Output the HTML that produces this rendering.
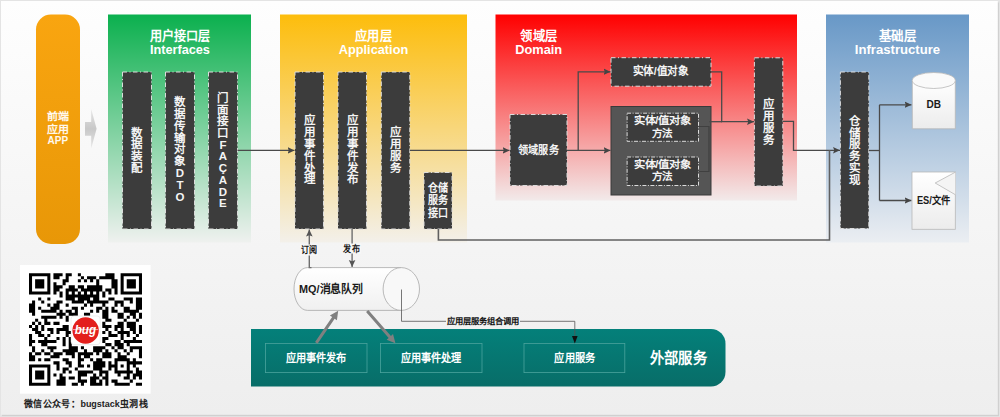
<!DOCTYPE html>
<html lang="zh-CN"><head><meta charset="utf-8"><title>DDD</title>
<style>
html,body{margin:0;padding:0;background:#f4f4f4;}
body{width:1000px;height:417px;overflow:hidden;font-family:"Liberation Sans", sans-serif;}
svg{display:block;font-family:"Liberation Sans", sans-serif;}
</style></head><body>
<svg width="1000" height="417" viewBox="0 0 1000 417">
<defs>
<linearGradient id="gbg" x1="0" y1="0" x2="0" y2="1"><stop offset="0" stop-color="#fefefe"/><stop offset="0.6" stop-color="#f4f4f4"/><stop offset="1" stop-color="#eeeeee"/></linearGradient>
<linearGradient id="gor" x1="0" y1="0" x2="0" y2="1"><stop offset="0" stop-color="#f9a510"/><stop offset="1" stop-color="#e89707"/></linearGradient>
<linearGradient id="ggr" x1="0" y1="0" x2="0" y2="1"><stop offset="0" stop-color="#0bb04e"/><stop offset="1" stop-color="#eff1ef"/></linearGradient>
<linearGradient id="gye" x1="0" y1="0" x2="0" y2="1"><stop offset="0" stop-color="#fdbd0c"/><stop offset="1" stop-color="#f3f0ea"/></linearGradient>
<linearGradient id="gre" x1="0" y1="0" x2="0" y2="1"><stop offset="0" stop-color="#ff0000"/><stop offset="1" stop-color="#f2eaea"/></linearGradient>
<linearGradient id="gbl" x1="0" y1="0" x2="0" y2="1"><stop offset="0" stop-color="#6898c7"/><stop offset="1" stop-color="#ebeef2"/></linearGradient>
<linearGradient id="gte" x1="0" y1="0" x2="0" y2="1"><stop offset="0" stop-color="#04807a"/><stop offset="1" stop-color="#086d68"/></linearGradient>
<linearGradient id="gcy" x1="0" y1="0" x2="0" y2="1"><stop offset="0" stop-color="#ffffff"/><stop offset="1" stop-color="#ececec"/></linearGradient>
<linearGradient id="gmq" x1="0" y1="0" x2="0" y2="1"><stop offset="0" stop-color="#ffffff"/><stop offset="1" stop-color="#f0f0f0"/></linearGradient>
<linearGradient id="gar" x1="0" y1="0" x2="0" y2="1"><stop offset="0" stop-color="#e6e6e6"/><stop offset="0.5" stop-color="#c8c8c8"/><stop offset="1" stop-color="#e6e6e6"/></linearGradient>
<marker id="ah" markerWidth="8" markerHeight="8" refX="7" refY="3.5" orient="auto" markerUnits="userSpaceOnUse"><path d="M0 0.2 L7 3.5 L0 6.8 L1.3 3.5 Z" fill="#444"/></marker>
<marker id="ahm" markerWidth="8" markerHeight="8" refX="7" refY="3.5" orient="auto" markerUnits="userSpaceOnUse"><path d="M0 0.2 L7 3.5 L0 6.8 L1.3 3.5 Z" fill="#555"/></marker>
<marker id="ahs" markerWidth="8" markerHeight="8" refX="7" refY="4" orient="auto" markerUnits="userSpaceOnUse"><path d="M0 1 L8 4 L0 7 z" fill="#111"/></marker>
<marker id="ahg" markerWidth="12" markerHeight="12" refX="11" refY="6" orient="auto" markerUnits="userSpaceOnUse"><path d="M0 0.5 L12 6 L0 11.5 z" fill="#7f7f7f"/></marker>
</defs>
<rect x="0" y="0" width="1000" height="417" fill="#e4e4e4"/>
<rect x="2" y="2.5" width="997" height="413.6" fill="#d0d0d0"/>
<rect x="1" y="1" width="996.8" height="413.8" fill="url(#gbg)"/>
<rect x="36" y="14.5" width="44" height="229.5" rx="15" ry="15" fill="url(#gor)"/>
<text x="57.8" y="120.1" font-size="10.5" fill="#fff8ec" font-weight="bold" text-anchor="middle" textLength="21" lengthAdjust="spacingAndGlyphs" >前端</text>
<text x="57.8" y="133.0" font-size="10.5" fill="#fff8ec" font-weight="bold" text-anchor="middle" textLength="21" lengthAdjust="spacingAndGlyphs" >应用</text>
<text x="57.8" y="144.2" font-size="10" fill="#fff8ec" font-weight="bold" text-anchor="middle" textLength="20.5" lengthAdjust="spacingAndGlyphs" >APP</text>
<path d="M85 122 H91.2 V109 L96.6 128.8 L91.2 148.6 V135.7 H85 Z" fill="url(#gar)"/>
<rect x="108" y="14.5" width="143" height="228" fill="url(#ggr)"/>
<rect x="280" y="14.5" width="187" height="228" fill="url(#gye)"/>
<rect x="495.5" y="14.5" width="301.5" height="186" fill="url(#gre)"/>
<rect x="826" y="14.5" width="143" height="228" fill="url(#gbl)"/>
<text x="179.9" y="39.6" font-size="13" fill="#fff" font-weight="bold" text-anchor="middle" textLength="60.5" lengthAdjust="spacingAndGlyphs" >用户接口层</text><text x="179.9" y="53.7" font-size="12" fill="#fff" font-weight="bold" text-anchor="middle" textLength="60" lengthAdjust="spacingAndGlyphs" >Interfaces</text>
<text x="373.5" y="39.6" font-size="13" fill="#fff" font-weight="bold" text-anchor="middle" textLength="36.7" lengthAdjust="spacingAndGlyphs" >应用层</text><text x="373.5" y="53.7" font-size="12" fill="#fff" font-weight="bold" text-anchor="middle" textLength="69.5" lengthAdjust="spacingAndGlyphs" >Application</text>
<text x="538.7" y="39.6" font-size="13" fill="#fff" font-weight="bold" text-anchor="middle" textLength="37" lengthAdjust="spacingAndGlyphs" >领域层</text><text x="538.7" y="53.7" font-size="12" fill="#fff" font-weight="bold" text-anchor="middle" textLength="47" lengthAdjust="spacingAndGlyphs" >Domain</text>
<text x="897.5" y="39.6" font-size="13" fill="#fff" font-weight="bold" text-anchor="middle" textLength="37.4" lengthAdjust="spacingAndGlyphs" >基础层</text><text x="897.5" y="53.7" font-size="12" fill="#fff" font-weight="bold" text-anchor="middle" textLength="85.3" lengthAdjust="spacingAndGlyphs" >Infrastructure</text>
<rect x="122.5" y="72" width="29" height="157" fill="#3c3c3c" stroke="#dcdcdc" stroke-width="1" stroke-dasharray="4.5 2.5 1 2.5"/>
<text x="136.9" y="136.6" font-size="11.5" fill="#f4f4f4" font-weight="bold" text-anchor="middle" >数</text><text x="136.9" y="148.27" font-size="11.5" fill="#f4f4f4" font-weight="bold" text-anchor="middle" >据</text><text x="136.9" y="159.94" font-size="11.5" fill="#f4f4f4" font-weight="bold" text-anchor="middle" >装</text><text x="136.9" y="171.61" font-size="11.5" fill="#f4f4f4" font-weight="bold" text-anchor="middle" >配</text>
<rect x="165.5" y="72" width="29" height="157" fill="#3c3c3c" stroke="#dcdcdc" stroke-width="1" stroke-dasharray="4.5 2.5 1 2.5"/>
<text x="179.9" y="105.8" font-size="11.5" fill="#f4f4f4" font-weight="bold" text-anchor="middle" >数</text><text x="179.9" y="117.7" font-size="11.5" fill="#f4f4f4" font-weight="bold" text-anchor="middle" >据</text><text x="179.9" y="129.6" font-size="11.5" fill="#f4f4f4" font-weight="bold" text-anchor="middle" >传</text><text x="179.9" y="141.5" font-size="11.5" fill="#f4f4f4" font-weight="bold" text-anchor="middle" >输</text><text x="179.9" y="153.4" font-size="11.5" fill="#f4f4f4" font-weight="bold" text-anchor="middle" >对</text><text x="179.9" y="165.3" font-size="11.5" fill="#f4f4f4" font-weight="bold" text-anchor="middle" >象</text><text x="179.9" y="177.2" font-size="11.5" fill="#f4f4f4" font-weight="bold" text-anchor="middle" >D</text><text x="179.9" y="189.1" font-size="11.5" fill="#f4f4f4" font-weight="bold" text-anchor="middle" >T</text><text x="179.9" y="201.0" font-size="11.5" fill="#f4f4f4" font-weight="bold" text-anchor="middle" >O</text>
<rect x="208.5" y="72" width="29" height="157" fill="#3c3c3c" stroke="#dcdcdc" stroke-width="1" stroke-dasharray="4.5 2.5 1 2.5"/>
<text x="222.9" y="101.9" font-size="11.5" fill="#f4f4f4" font-weight="bold" text-anchor="middle" >门</text><text x="222.9" y="113.6" font-size="11.5" fill="#f4f4f4" font-weight="bold" text-anchor="middle" >面</text><text x="222.9" y="125.3" font-size="11.5" fill="#f4f4f4" font-weight="bold" text-anchor="middle" >接</text><text x="222.9" y="137.0" font-size="11.5" fill="#f4f4f4" font-weight="bold" text-anchor="middle" >口</text><text x="222.9" y="148.7" font-size="11.5" fill="#f4f4f4" font-weight="bold" text-anchor="middle" >F</text><text x="222.9" y="160.4" font-size="11.5" fill="#f4f4f4" font-weight="bold" text-anchor="middle" >A</text><text x="222.9" y="172.1" font-size="11.5" fill="#f4f4f4" font-weight="bold" text-anchor="middle" >Ç</text><text x="222.9" y="183.8" font-size="11.5" fill="#f4f4f4" font-weight="bold" text-anchor="middle" >A</text><text x="222.9" y="195.5" font-size="11.5" fill="#f4f4f4" font-weight="bold" text-anchor="middle" >D</text><text x="222.9" y="207.2" font-size="11.5" fill="#f4f4f4" font-weight="bold" text-anchor="middle" >E</text>
<rect x="295" y="72" width="28.5" height="157" fill="#3c3c3c" stroke="#dcdcdc" stroke-width="1" stroke-dasharray="4.5 2.5 1 2.5"/>
<text x="309.2" y="124.1" font-size="11.5" fill="#f4f4f4" font-weight="bold" text-anchor="middle" >应</text><text x="309.2" y="135.95" font-size="11.5" fill="#f4f4f4" font-weight="bold" text-anchor="middle" >用</text><text x="309.2" y="147.8" font-size="11.5" fill="#f4f4f4" font-weight="bold" text-anchor="middle" >事</text><text x="309.2" y="159.65" font-size="11.5" fill="#f4f4f4" font-weight="bold" text-anchor="middle" >件</text><text x="309.2" y="171.5" font-size="11.5" fill="#f4f4f4" font-weight="bold" text-anchor="middle" >处</text><text x="309.2" y="183.35" font-size="11.5" fill="#f4f4f4" font-weight="bold" text-anchor="middle" >理</text>
<rect x="338" y="72" width="28.5" height="157" fill="#3c3c3c" stroke="#dcdcdc" stroke-width="1" stroke-dasharray="4.5 2.5 1 2.5"/>
<text x="352.2" y="124.1" font-size="11.5" fill="#f4f4f4" font-weight="bold" text-anchor="middle" >应</text><text x="352.2" y="135.95" font-size="11.5" fill="#f4f4f4" font-weight="bold" text-anchor="middle" >用</text><text x="352.2" y="147.8" font-size="11.5" fill="#f4f4f4" font-weight="bold" text-anchor="middle" >事</text><text x="352.2" y="159.65" font-size="11.5" fill="#f4f4f4" font-weight="bold" text-anchor="middle" >件</text><text x="352.2" y="171.5" font-size="11.5" fill="#f4f4f4" font-weight="bold" text-anchor="middle" >发</text><text x="352.2" y="183.35" font-size="11.5" fill="#f4f4f4" font-weight="bold" text-anchor="middle" >布</text>
<rect x="381.3" y="72" width="28.5" height="157" fill="#3c3c3c" stroke="#dcdcdc" stroke-width="1" stroke-dasharray="4.5 2.5 1 2.5"/>
<text x="395.1" y="136.0" font-size="11.5" fill="#f4f4f4" font-weight="bold" text-anchor="middle" >应</text><text x="395.1" y="148.0" font-size="11.5" fill="#f4f4f4" font-weight="bold" text-anchor="middle" >用</text><text x="395.1" y="160.0" font-size="11.5" fill="#f4f4f4" font-weight="bold" text-anchor="middle" >服</text><text x="395.1" y="172.0" font-size="11.5" fill="#f4f4f4" font-weight="bold" text-anchor="middle" >务</text>
<rect x="424" y="172.5" width="28" height="56.5" fill="#3c3c3c" stroke="#dcdcdc" stroke-width="1" stroke-dasharray="4.5 2.5 1 2.5"/>
<text x="438.4" y="191.8" font-size="10.8" fill="#f4f4f4" font-weight="bold" text-anchor="middle" textLength="20.5" lengthAdjust="spacingAndGlyphs" >仓储</text>
<text x="438.4" y="204.2" font-size="10.8" fill="#f4f4f4" font-weight="bold" text-anchor="middle" textLength="20.5" lengthAdjust="spacingAndGlyphs" >服务</text>
<text x="438.4" y="216.6" font-size="10.8" fill="#f4f4f4" font-weight="bold" text-anchor="middle" textLength="20.5" lengthAdjust="spacingAndGlyphs" >接口</text>
<rect x="510" y="114.5" width="57" height="71" fill="#3c3c3c" stroke="#dcdcdc" stroke-width="1" stroke-dasharray="4.5 2.5 1 2.5"/>
<text x="538.4" y="154.0" font-size="11" fill="#f4f4f4" font-weight="bold" text-anchor="middle" textLength="40.5" lengthAdjust="spacingAndGlyphs" >领域服务</text>
<rect x="611" y="57.7" width="100" height="28.5" fill="#3c3c3c" stroke="#dcdcdc" stroke-width="1" stroke-dasharray="4.5 2.5 1 2.5"/>
<text x="660.6" y="75.3" font-size="11" fill="#f4f4f4" font-weight="bold" text-anchor="middle" textLength="56" lengthAdjust="spacingAndGlyphs" >实体/值对象</text>
<rect x="611" y="106.5" width="100" height="88.5" fill="#555555" stroke="#3a3a3a" stroke-width="1"/>
<rect x="627.1" y="113.2" width="71.4" height="28.1" fill="#3c3c3c" stroke="#dcdcdc" stroke-width="1" stroke-dasharray="4 1.5 1 1.5"/>
<text x="662.3" y="124.1" font-size="10.5" fill="#f4f4f4" font-weight="bold" text-anchor="middle" textLength="57" lengthAdjust="spacingAndGlyphs" >实体/值对象</text>
<text x="662.3" y="136.5" font-size="10.5" fill="#f4f4f4" font-weight="bold" text-anchor="middle" textLength="20.2" lengthAdjust="spacingAndGlyphs" >方法</text>
<rect x="627.1" y="157" width="71.4" height="28.5" fill="#3c3c3c" stroke="#dcdcdc" stroke-width="1" stroke-dasharray="4 1.5 1 1.5"/>
<text x="662.3" y="168.4" font-size="10.5" fill="#f4f4f4" font-weight="bold" text-anchor="middle" textLength="57" lengthAdjust="spacingAndGlyphs" >实体/值对象</text>
<text x="662.3" y="180.3" font-size="10.5" fill="#f4f4f4" font-weight="bold" text-anchor="middle" textLength="20.2" lengthAdjust="spacingAndGlyphs" >方法</text>
<rect x="754.4" y="57.8" width="28.4" height="128.2" fill="#3c3c3c" stroke="#dcdcdc" stroke-width="1" stroke-dasharray="4.5 2.5 1 2.5"/>
<text x="768.3" y="107.8" font-size="11.5" fill="#f4f4f4" font-weight="bold" text-anchor="middle" >应</text><text x="768.3" y="119.7" font-size="11.5" fill="#f4f4f4" font-weight="bold" text-anchor="middle" >用</text><text x="768.3" y="131.6" font-size="11.5" fill="#f4f4f4" font-weight="bold" text-anchor="middle" >服</text><text x="768.3" y="143.5" font-size="11.5" fill="#f4f4f4" font-weight="bold" text-anchor="middle" >务</text>
<rect x="840.4" y="72" width="28.4" height="156.5" fill="#3c3c3c" stroke="#dcdcdc" stroke-width="1" stroke-dasharray="4.5 2.5 1 2.5"/>
<text x="854.5" y="124.9" font-size="11.5" fill="#f4f4f4" font-weight="bold" text-anchor="middle" >仓</text><text x="854.5" y="136.66" font-size="11.5" fill="#f4f4f4" font-weight="bold" text-anchor="middle" >储</text><text x="854.5" y="148.42" font-size="11.5" fill="#f4f4f4" font-weight="bold" text-anchor="middle" >服</text><text x="854.5" y="160.18" font-size="11.5" fill="#f4f4f4" font-weight="bold" text-anchor="middle" >务</text><text x="854.5" y="171.94" font-size="11.5" fill="#f4f4f4" font-weight="bold" text-anchor="middle" >实</text><text x="854.5" y="183.7" font-size="11.5" fill="#f4f4f4" font-weight="bold" text-anchor="middle" >现</text>
<path d="M237.5 150.4 H294.5" stroke="#4a4a4a" stroke-width="1.3" fill="none" marker-end="url(#ah)"/>
<path d="M409.8 150.4 H509.5" stroke="#4a4a4a" stroke-width="1.3" fill="none" marker-end="url(#ah)"/>
<path d="M567 150.4 H610.5" stroke="#4a4a4a" stroke-width="1.3" fill="none" marker-end="url(#ah)"/>
<path d="M578.2 150.4 V71.8 H610.5" stroke="#4a4a4a" stroke-width="1.3" fill="none" marker-end="url(#ah)"/>
<path d="M711 71.8 H721.7 V121.7 H754" stroke="#4a4a4a" stroke-width="1.3" fill="none" marker-end="url(#ah)"/>
<path d="M698.5 126.5 H709 V171.5 H698.5" stroke="#404040" stroke-width="1.2" fill="none"/>
<path d="M709 121.7 H722" stroke="#4a4a4a" stroke-width="1.3" fill="none"/>
<path d="M782.8 121.3 H793.5 V150.3 H840" stroke="#4a4a4a" stroke-width="1.3" fill="none" marker-end="url(#ah)"/>
<path d="M438.4 229 V240 H829.5 V150.3" stroke="#606060" stroke-width="1.6" fill="none"/>
<path d="M868.8 150.5 H879.5" stroke="#4a4a4a" stroke-width="1.3" fill="none"/>
<path d="M879.5 104.8 V200.5" stroke="#4a4a4a" stroke-width="1.3" fill="none"/>
<path d="M879.5 104.8 H911.5" stroke="#4a4a4a" stroke-width="1.3" fill="none" marker-end="url(#ah)"/>
<path d="M879.5 200.5 H911.5" stroke="#4a4a4a" stroke-width="1.3" fill="none" marker-end="url(#ah)"/>
<path d="M912.3 80.5 V128.8 H955.3 V80.5" fill="url(#gcy)" stroke="#b8b8b8" stroke-width="0.8"/>
<ellipse cx="933.8" cy="80.5" rx="21.5" ry="8" fill="#fafafa" stroke="#b8b8b8" stroke-width="0.8"/>
<text x="933.7" y="108.3" font-size="10.5" fill="#1a1a1a" font-weight="bold" text-anchor="middle" textLength="14.5" lengthAdjust="spacingAndGlyphs" >DB</text>
<rect x="912" y="172" width="43.3" height="57.3" fill="url(#gcy)" stroke="#b8b8b8" stroke-width="0.8"/>
<path d="M955.3 172.2 L935.2 183 L955.3 194.7" fill="#f4f4f4" stroke="#b8b8b8" stroke-width="0.8"/>
<text x="933.7" y="204" font-size="10" fill="#1a1a1a" font-weight="bold" text-anchor="middle" textLength="33.5" lengthAdjust="spacingAndGlyphs" >ES/文件</text>
<path d="M251 329 H711 A14.5 14.5 0 0 1 725.5 343.5 V372 A14.5 14.5 0 0 1 711 386.5 H251 Z" fill="url(#gte)"/>
<rect x="265.5" y="343.4" width="101.5" height="29.2" fill="none" stroke="#4aa39d" stroke-width="0.8"/>
<text x="316.1" y="361.6" font-size="11" fill="#fff" font-weight="bold" text-anchor="middle" textLength="61" lengthAdjust="spacingAndGlyphs" >应用事件发布</text>
<rect x="380.5" y="343.4" width="101.5" height="29.2" fill="none" stroke="#4aa39d" stroke-width="0.8"/>
<text x="431.0" y="361.6" font-size="11" fill="#fff" font-weight="bold" text-anchor="middle" textLength="61" lengthAdjust="spacingAndGlyphs" >应用事件处理</text>
<rect x="524" y="343.4" width="100.8" height="29.2" fill="none" stroke="#4aa39d" stroke-width="0.8"/>
<text x="574.75" y="361.6" font-size="11" fill="#fff" font-weight="bold" text-anchor="middle" textLength="41" lengthAdjust="spacingAndGlyphs" >应用服务</text>
<text x="678.3" y="362.7" font-size="15" fill="#fff" font-weight="bold" text-anchor="middle" textLength="57" lengthAdjust="spacingAndGlyphs" >外部服务</text>
<path d="M401.3 267.6 H307.5 A13.5 21.4 0 0 0 294 289 A13.5 21.4 0 0 0 307.5 310.4 H401.3" fill="url(#gmq)" stroke="#a8a8a8" stroke-width="0.8"/>
<ellipse cx="401.3" cy="289" rx="18.2" ry="21.4" fill="#f8f8f8" stroke="#a8a8a8" stroke-width="0.8"/>
<text x="299" y="292.6" font-size="11" fill="#1a1a1a" font-weight="bold" text-anchor="start" textLength="64" lengthAdjust="spacingAndGlyphs" >MQ/消息队列</text>
<path d="M311.5 267.6 H309.3 V229.5" stroke="#6e6e6e" stroke-width="1.4" fill="none" marker-end="url(#ahm)"/>
<path d="M352.1 229 V267" stroke="#6e6e6e" stroke-width="1.4" fill="none" marker-end="url(#ahm)"/>
<rect x="300" y="244.5" width="18" height="11" fill="#f7f7f7"/>
<rect x="343" y="243.5" width="18" height="10" fill="#f7f7f7"/>
<text x="308.9" y="253.2" font-size="8.8" fill="#1a1a1a" font-weight="bold" text-anchor="middle" textLength="16.5" lengthAdjust="spacingAndGlyphs" >订阅</text>
<text x="351.7" y="252.0" font-size="8.8" fill="#1a1a1a" font-weight="bold" text-anchor="middle" textLength="16.5" lengthAdjust="spacingAndGlyphs" >发布</text>
<path d="M317.54 343.65 L334.64 318.66 L336.91 320.21 L338.20 310.80 L329.89 315.41 L332.16 316.97 L315.06 341.95 Z" fill="#808080"/>
<path d="M366.07 311.99 L388.68 337.88 L386.61 339.69 L395.40 343.30 L393.01 334.10 L390.94 335.91 L368.33 310.01 Z" fill="#808080"/>
<path d="M401.5 289.5 V321.3 H574.8 V342.5" stroke="#555" stroke-width="0.8" fill="none" marker-end="url(#ahs)"/>
<rect x="446" y="316" width="74" height="10" fill="#f3f3f3"/>
<text x="483" y="324.2" font-size="8.2" fill="#111" font-weight="bold" text-anchor="middle" textLength="73" lengthAdjust="spacingAndGlyphs" >应用层服务组合调用</text>
<rect x="20" y="265" width="130.6" height="128.7" fill="#fff"/>
<path d="M29.00 273.20h21.38v3.04h-21.38zM53.43 273.20h9.16v3.04h-9.16zM65.65 273.20h6.11v3.04h-6.11zM77.86 273.20h3.05v3.04h-3.05zM105.35 273.20h9.16v3.04h-9.16zM120.62 273.20h21.38v3.04h-21.38zM29.00 276.24h3.05v3.04h-3.05zM47.32 276.24h3.05v3.04h-3.05zM53.43 276.24h6.11v3.04h-6.11zM65.65 276.24h3.05v3.04h-3.05zM80.92 276.24h3.05v3.04h-3.05zM87.03 276.24h9.16v3.04h-9.16zM99.24 276.24h15.27v3.04h-15.27zM120.62 276.24h3.05v3.04h-3.05zM138.94 276.24h3.05v3.04h-3.05zM29.00 279.28h3.05v3.04h-3.05zM35.11 279.28h9.16v3.04h-9.16zM47.32 279.28h3.05v3.04h-3.05zM62.59 279.28h6.11v3.04h-6.11zM77.86 279.28h3.05v3.04h-3.05zM83.97 279.28h3.05v3.04h-3.05zM90.08 279.28h3.05v3.04h-3.05zM96.19 279.28h3.05v3.04h-3.05zM111.46 279.28h6.11v3.04h-6.11zM120.62 279.28h3.05v3.04h-3.05zM126.73 279.28h9.16v3.04h-9.16zM138.94 279.28h3.05v3.04h-3.05zM29.00 282.32h3.05v3.04h-3.05zM35.11 282.32h9.16v3.04h-9.16zM47.32 282.32h3.05v3.04h-3.05zM53.43 282.32h3.05v3.04h-3.05zM62.59 282.32h3.05v3.04h-3.05zM96.19 282.32h3.05v3.04h-3.05zM111.46 282.32h6.11v3.04h-6.11zM120.62 282.32h3.05v3.04h-3.05zM126.73 282.32h9.16v3.04h-9.16zM138.94 282.32h3.05v3.04h-3.05zM29.00 285.36h3.05v3.04h-3.05zM35.11 285.36h9.16v3.04h-9.16zM47.32 285.36h3.05v3.04h-3.05zM53.43 285.36h9.16v3.04h-9.16zM68.70 285.36h6.11v3.04h-6.11zM77.86 285.36h6.11v3.04h-6.11zM87.03 285.36h15.27v3.04h-15.27zM111.46 285.36h6.11v3.04h-6.11zM120.62 285.36h3.05v3.04h-3.05zM126.73 285.36h9.16v3.04h-9.16zM138.94 285.36h3.05v3.04h-3.05zM29.00 288.40h3.05v3.04h-3.05zM47.32 288.40h3.05v3.04h-3.05zM53.43 288.40h6.11v3.04h-6.11zM65.65 288.40h12.22v3.04h-12.22zM80.92 288.40h21.38v3.04h-21.38zM105.35 288.40h6.11v3.04h-6.11zM114.51 288.40h3.05v3.04h-3.05zM120.62 288.40h3.05v3.04h-3.05zM138.94 288.40h3.05v3.04h-3.05zM29.00 291.44h21.38v3.04h-21.38zM53.43 291.44h3.05v3.04h-3.05zM59.54 291.44h3.05v3.04h-3.05zM65.65 291.44h3.05v3.04h-3.05zM71.76 291.44h3.05v3.04h-3.05zM77.86 291.44h3.05v3.04h-3.05zM83.97 291.44h3.05v3.04h-3.05zM90.08 291.44h3.05v3.04h-3.05zM96.19 291.44h3.05v3.04h-3.05zM102.30 291.44h3.05v3.04h-3.05zM108.40 291.44h3.05v3.04h-3.05zM114.51 291.44h3.05v3.04h-3.05zM120.62 291.44h21.38v3.04h-21.38zM59.54 294.48h3.05v3.04h-3.05zM65.65 294.48h33.59v3.04h-33.59zM102.30 294.48h3.05v3.04h-3.05zM38.16 297.52h3.05v3.04h-3.05zM47.32 297.52h3.05v3.04h-3.05zM65.65 297.52h9.16v3.04h-9.16zM77.86 297.52h12.22v3.04h-12.22zM93.13 297.52h6.11v3.04h-6.11zM108.40 297.52h6.11v3.04h-6.11zM123.67 297.52h9.16v3.04h-9.16zM135.89 297.52h6.11v3.04h-6.11zM32.05 300.56h3.05v3.04h-3.05zM41.22 300.56h3.05v3.04h-3.05zM56.49 300.56h6.11v3.04h-6.11zM71.76 300.56h12.22v3.04h-12.22zM87.03 300.56h21.38v3.04h-21.38zM114.51 300.56h9.16v3.04h-9.16zM129.78 300.56h3.05v3.04h-3.05zM135.89 300.56h6.11v3.04h-6.11zM29.00 303.60h6.11v3.04h-6.11zM47.32 303.60h3.05v3.04h-3.05zM53.43 303.60h6.11v3.04h-6.11zM65.65 303.60h3.05v3.04h-3.05zM83.97 303.60h3.05v3.04h-3.05zM90.08 303.60h3.05v3.04h-3.05zM102.30 303.60h3.05v3.04h-3.05zM114.51 303.60h3.05v3.04h-3.05zM120.62 303.60h3.05v3.04h-3.05zM135.89 303.60h6.11v3.04h-6.11zM29.00 306.64h6.11v3.04h-6.11zM38.16 306.64h3.05v3.04h-3.05zM50.38 306.64h9.16v3.04h-9.16zM71.76 306.64h6.11v3.04h-6.11zM80.92 306.64h3.05v3.04h-3.05zM96.19 306.64h6.11v3.04h-6.11zM105.35 306.64h3.05v3.04h-3.05zM111.46 306.64h3.05v3.04h-3.05zM123.67 306.64h6.11v3.04h-6.11zM135.89 306.64h6.11v3.04h-6.11zM29.00 309.68h6.11v3.04h-6.11zM41.22 309.68h15.27v3.04h-15.27zM59.54 309.68h3.05v3.04h-3.05zM65.65 309.68h6.11v3.04h-6.11zM74.81 309.68h3.05v3.04h-3.05zM90.08 309.68h3.05v3.04h-3.05zM96.19 309.68h3.05v3.04h-3.05zM102.30 309.68h6.11v3.04h-6.11zM111.46 309.68h6.11v3.04h-6.11zM123.67 309.68h15.27v3.04h-15.27zM32.05 312.72h3.05v3.04h-3.05zM56.49 312.72h9.16v3.04h-9.16zM68.70 312.72h9.16v3.04h-9.16zM83.97 312.72h6.11v3.04h-6.11zM102.30 312.72h6.11v3.04h-6.11zM117.57 312.72h6.11v3.04h-6.11zM129.78 312.72h6.11v3.04h-6.11zM138.94 312.72h3.05v3.04h-3.05zM41.22 315.76h15.27v3.04h-15.27zM59.54 315.76h3.05v3.04h-3.05zM65.65 315.76h3.05v3.04h-3.05zM102.30 315.76h6.11v3.04h-6.11zM117.57 315.76h6.11v3.04h-6.11zM126.73 315.76h3.05v3.04h-3.05zM132.84 315.76h3.05v3.04h-3.05zM138.94 315.76h3.05v3.04h-3.05zM35.11 318.80h3.05v3.04h-3.05zM44.27 318.80h3.05v3.04h-3.05zM65.65 318.80h3.05v3.04h-3.05zM105.35 318.80h6.11v3.04h-6.11zM123.67 318.80h3.05v3.04h-3.05zM135.89 318.80h3.05v3.04h-3.05zM32.05 321.84h3.05v3.04h-3.05zM38.16 321.84h3.05v3.04h-3.05zM44.27 321.84h6.11v3.04h-6.11zM53.43 321.84h6.11v3.04h-6.11zM102.30 321.84h3.05v3.04h-3.05zM117.57 321.84h6.11v3.04h-6.11zM126.73 321.84h9.16v3.04h-9.16zM29.00 324.88h3.05v3.04h-3.05zM35.11 324.88h3.05v3.04h-3.05zM41.22 324.88h3.05v3.04h-3.05zM62.59 324.88h6.11v3.04h-6.11zM102.30 324.88h9.16v3.04h-9.16zM114.51 324.88h9.16v3.04h-9.16zM126.73 324.88h9.16v3.04h-9.16zM138.94 324.88h3.05v3.04h-3.05zM32.05 327.92h6.11v3.04h-6.11zM41.22 327.92h3.05v3.04h-3.05zM47.32 327.92h6.11v3.04h-6.11zM56.49 327.92h12.22v3.04h-12.22zM105.35 327.92h3.05v3.04h-3.05zM114.51 327.92h3.05v3.04h-3.05zM120.62 327.92h3.05v3.04h-3.05zM129.78 327.92h6.11v3.04h-6.11zM138.94 327.92h3.05v3.04h-3.05zM35.11 330.96h6.11v3.04h-6.11zM50.38 330.96h3.05v3.04h-3.05zM56.49 330.96h3.05v3.04h-3.05zM65.65 330.96h6.11v3.04h-6.11zM102.30 330.96h3.05v3.04h-3.05zM108.40 330.96h3.05v3.04h-3.05zM117.57 330.96h12.22v3.04h-12.22zM132.84 330.96h3.05v3.04h-3.05zM138.94 330.96h3.05v3.04h-3.05zM29.00 334.00h3.05v3.04h-3.05zM38.16 334.00h6.11v3.04h-6.11zM47.32 334.00h3.05v3.04h-3.05zM65.65 334.00h3.05v3.04h-3.05zM108.40 334.00h9.16v3.04h-9.16zM120.62 334.00h3.05v3.04h-3.05zM126.73 334.00h3.05v3.04h-3.05zM135.89 334.00h3.05v3.04h-3.05zM29.00 337.04h3.05v3.04h-3.05zM44.27 337.04h3.05v3.04h-3.05zM56.49 337.04h3.05v3.04h-3.05zM62.59 337.04h3.05v3.04h-3.05zM68.70 337.04h3.05v3.04h-3.05zM102.30 337.04h6.11v3.04h-6.11zM120.62 337.04h3.05v3.04h-3.05zM132.84 337.04h3.05v3.04h-3.05zM29.00 340.08h6.11v3.04h-6.11zM38.16 340.08h18.32v3.04h-18.32zM62.59 340.08h3.05v3.04h-3.05zM68.70 340.08h3.05v3.04h-3.05zM102.30 340.08h3.05v3.04h-3.05zM114.51 340.08h6.11v3.04h-6.11zM123.67 340.08h18.32v3.04h-18.32zM29.00 343.12h3.05v3.04h-3.05zM41.22 343.12h6.11v3.04h-6.11zM62.59 343.12h3.05v3.04h-3.05zM68.70 343.12h3.05v3.04h-3.05zM105.35 343.12h6.11v3.04h-6.11zM114.51 343.12h9.16v3.04h-9.16zM126.73 343.12h3.05v3.04h-3.05zM32.05 346.16h3.05v3.04h-3.05zM47.32 346.16h9.16v3.04h-9.16zM68.70 346.16h9.16v3.04h-9.16zM80.92 346.16h3.05v3.04h-3.05zM93.13 346.16h12.22v3.04h-12.22zM111.46 346.16h3.05v3.04h-3.05zM117.57 346.16h6.11v3.04h-6.11zM129.78 346.16h12.22v3.04h-12.22zM32.05 349.20h3.05v3.04h-3.05zM41.22 349.20h3.05v3.04h-3.05zM50.38 349.20h3.05v3.04h-3.05zM62.59 349.20h15.27v3.04h-15.27zM83.97 349.20h3.05v3.04h-3.05zM93.13 349.20h9.16v3.04h-9.16zM105.35 349.20h3.05v3.04h-3.05zM114.51 349.20h3.05v3.04h-3.05zM123.67 349.20h3.05v3.04h-3.05zM129.78 349.20h3.05v3.04h-3.05zM138.94 349.20h3.05v3.04h-3.05zM29.00 352.24h3.05v3.04h-3.05zM35.11 352.24h6.11v3.04h-6.11zM44.27 352.24h6.11v3.04h-6.11zM53.43 352.24h9.16v3.04h-9.16zM65.65 352.24h9.16v3.04h-9.16zM77.86 352.24h15.27v3.04h-15.27zM96.19 352.24h3.05v3.04h-3.05zM102.30 352.24h9.16v3.04h-9.16zM117.57 352.24h3.05v3.04h-3.05zM126.73 352.24h3.05v3.04h-3.05zM138.94 352.24h3.05v3.04h-3.05zM29.00 355.28h6.11v3.04h-6.11zM50.38 355.28h9.16v3.04h-9.16zM71.76 355.28h3.05v3.04h-3.05zM77.86 355.28h3.05v3.04h-3.05zM83.97 355.28h6.11v3.04h-6.11zM102.30 355.28h9.16v3.04h-9.16zM117.57 355.28h9.16v3.04h-9.16zM138.94 355.28h3.05v3.04h-3.05zM29.00 358.32h6.11v3.04h-6.11zM38.16 358.32h3.05v3.04h-3.05zM44.27 358.32h6.11v3.04h-6.11zM62.59 358.32h6.11v3.04h-6.11zM77.86 358.32h6.11v3.04h-6.11zM90.08 358.32h3.05v3.04h-3.05zM96.19 358.32h6.11v3.04h-6.11zM114.51 358.32h15.27v3.04h-15.27zM132.84 358.32h3.05v3.04h-3.05zM53.43 361.36h6.11v3.04h-6.11zM65.65 361.36h6.11v3.04h-6.11zM77.86 361.36h3.05v3.04h-3.05zM93.13 361.36h12.22v3.04h-12.22zM108.40 361.36h3.05v3.04h-3.05zM114.51 361.36h3.05v3.04h-3.05zM126.73 361.36h15.27v3.04h-15.27zM29.00 364.40h21.38v3.04h-21.38zM56.49 364.40h3.05v3.04h-3.05zM68.70 364.40h3.05v3.04h-3.05zM77.86 364.40h6.11v3.04h-6.11zM87.03 364.40h3.05v3.04h-3.05zM93.13 364.40h12.22v3.04h-12.22zM108.40 364.40h9.16v3.04h-9.16zM120.62 364.40h3.05v3.04h-3.05zM126.73 364.40h3.05v3.04h-3.05zM132.84 364.40h3.05v3.04h-3.05zM29.00 367.44h3.05v3.04h-3.05zM47.32 367.44h3.05v3.04h-3.05zM56.49 367.44h3.05v3.04h-3.05zM62.59 367.44h6.11v3.04h-6.11zM74.81 367.44h3.05v3.04h-3.05zM93.13 367.44h9.16v3.04h-9.16zM108.40 367.44h3.05v3.04h-3.05zM114.51 367.44h3.05v3.04h-3.05zM126.73 367.44h3.05v3.04h-3.05zM135.89 367.44h3.05v3.04h-3.05zM29.00 370.48h3.05v3.04h-3.05zM35.11 370.48h9.16v3.04h-9.16zM47.32 370.48h3.05v3.04h-3.05zM62.59 370.48h3.05v3.04h-3.05zM68.70 370.48h3.05v3.04h-3.05zM77.86 370.48h15.27v3.04h-15.27zM99.24 370.48h9.16v3.04h-9.16zM114.51 370.48h18.32v3.04h-18.32zM135.89 370.48h6.11v3.04h-6.11zM29.00 373.52h3.05v3.04h-3.05zM35.11 373.52h9.16v3.04h-9.16zM47.32 373.52h3.05v3.04h-3.05zM53.43 373.52h3.05v3.04h-3.05zM59.54 373.52h3.05v3.04h-3.05zM77.86 373.52h9.16v3.04h-9.16zM93.13 373.52h3.05v3.04h-3.05zM99.24 373.52h3.05v3.04h-3.05zM105.35 373.52h3.05v3.04h-3.05zM117.57 373.52h3.05v3.04h-3.05zM126.73 373.52h3.05v3.04h-3.05zM132.84 373.52h9.16v3.04h-9.16zM29.00 376.56h3.05v3.04h-3.05zM35.11 376.56h9.16v3.04h-9.16zM47.32 376.56h3.05v3.04h-3.05zM59.54 376.56h6.11v3.04h-6.11zM68.70 376.56h6.11v3.04h-6.11zM77.86 376.56h3.05v3.04h-3.05zM90.08 376.56h9.16v3.04h-9.16zM102.30 376.56h6.11v3.04h-6.11zM123.67 376.56h6.11v3.04h-6.11zM132.84 376.56h3.05v3.04h-3.05zM138.94 376.56h3.05v3.04h-3.05zM29.00 379.60h3.05v3.04h-3.05zM47.32 379.60h3.05v3.04h-3.05zM56.49 379.60h9.16v3.04h-9.16zM77.86 379.60h9.16v3.04h-9.16zM90.08 379.60h6.11v3.04h-6.11zM99.24 379.60h3.05v3.04h-3.05zM105.35 379.60h3.05v3.04h-3.05zM111.46 379.60h6.11v3.04h-6.11zM129.78 379.60h3.05v3.04h-3.05zM29.00 382.64h21.38v3.04h-21.38zM56.49 382.64h9.16v3.04h-9.16zM71.76 382.64h6.11v3.04h-6.11zM80.92 382.64h3.05v3.04h-3.05zM90.08 382.64h12.22v3.04h-12.22zM105.35 382.64h3.05v3.04h-3.05zM114.51 382.64h15.27v3.04h-15.27zM135.89 382.64h6.11v3.04h-6.11z" fill="#000"/>
<rect x="71" y="316" width="29.2" height="28.6" rx="3" fill="#fff" stroke="#ddd" stroke-width="0.5"/>
<circle cx="85.6" cy="330.5" r="13.2" fill="#e31f1c"/>
<line x1="73" y1="329.6" x2="98" y2="329.6" stroke="#fff" stroke-width="0.6"/>
<text x="85.4" y="333.6" font-size="12.5" fill="#fff" font-weight="bold" font-style="italic" text-anchor="middle" textLength="21.5" lengthAdjust="spacingAndGlyphs">bug</text>
<text x="23.7" y="407.2" font-size="9.5" fill="#222" font-weight="bold" text-anchor="start" textLength="124.5" lengthAdjust="spacingAndGlyphs" >微信公众号：bugstack虫洞栈</text>
</svg>
</body></html>
